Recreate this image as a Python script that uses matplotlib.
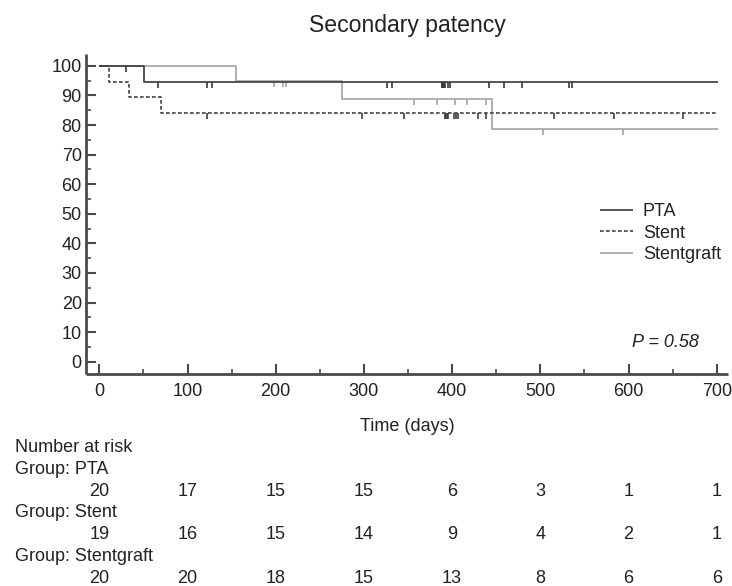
import numpy as np
import matplotlib
matplotlib.use("Agg")
import matplotlib.pyplot as plt
from matplotlib.ticker import MultipleLocator
from matplotlib.transforms import blended_transform_factory

plt.rcParams['font.family'] = ['Liberation Sans', 'DejaVu Sans']

# ---------------- data ----------------
end_time = 702

pta_times = [0, 51]
pta_surv = [100, 94.7]
pta_censor = [30, 67, 122, 128, 326, 332, 388, 389, 390, 391, 392, 395, 398,
              442, 459, 479, 533, 536]

stent_times = [0, 11, 34, 70]
stent_surv = [100, 94.7, 89.5, 84.2]
stent_censor = [122, 298, 345, 392, 393, 394, 395, 402, 404, 407, 429, 438,
                516, 584, 662]

sg_times = [0, 155, 275, 445]
sg_surv = [100, 95.0, 88.9, 78.8]
sg_censor = [198, 208, 212, 357, 383, 403, 417, 438, 503, 594]

group_names = ["PTA", "Stent", "Stentgraft"]
risk_times = [0, 100, 200, 300, 400, 500, 600, 700]
pta_risk = [20, 17, 15, 15, 6, 3, 1, 1]
stent_risk = [19, 16, 15, 14, 9, 4, 2, 1]
sg_risk = [20, 20, 18, 15, 13, 8, 6, 6]

title = "Secondary patency"
xlabel = "Time (days)"
p_text = "P = 0.58"

# ---------------- figure ----------------
W, H = 732, 586
fig = plt.figure(figsize=(W / 100, H / 100), dpi=100)
ax_l, ax_r, ax_t, ax_b = 86, 728, 54, 374.3
ax = fig.add_axes([ax_l / W, 1 - ax_b / H, (ax_r - ax_l) / W, (ax_b - ax_t) / H])

dark = "#3a3a3a"
mid = "#404040"
light = "#a3a3a3"
txt = "#222222"
spine_c = "#4a4a4a"
fs = 13

groups = [
    (pta_times, pta_surv, pta_censor, dark, "-", group_names[0]),
    (stent_times, stent_surv, stent_censor, mid, (0, (2.2, 1.4)), group_names[1]),
    (sg_times, sg_surv, sg_censor, light, "-", group_names[2]),
]

# draw gray first so dark lines on top where they overlap
order = [2, 1, 0]
handles = {}
for i in order:
    t, s, c, col, ls, name = groups[i]
    tt = np.append(t, end_time)
    ss = np.append(s, s[-1])
    ln, = ax.step(tt, ss, where="post", color=col, lw=1.2, linestyle=ls, label=name,
                  solid_capstyle="butt", zorder=3 if i != 2 else 2)
    handles[i] = ln
    cs = np.array(s)[np.searchsorted(t, c, side="right") - 1]
    ax.vlines(c, cs - 2.2, cs, color=col, lw=1.2, zorder=3 if i != 2 else 2)

ax.set_xlim(-15.1, 712.8)
ax.set_ylim(-4.26, 104)
ax.xaxis.set_major_locator(MultipleLocator(100))
ax.xaxis.set_minor_locator(MultipleLocator(50))
ax.yaxis.set_major_locator(MultipleLocator(10))
ax.yaxis.set_minor_locator(MultipleLocator(5))

for side in ["top", "right"]:
    ax.spines[side].set_visible(False)
for side in ["left", "bottom"]:
    ax.spines[side].set_linewidth(2.0)
    ax.spines[side].set_color(spine_c)
    ax.spines[side].set_capstyle("butt")

ax.tick_params(axis="both", which="major", direction="in", length=7.2, width=1.5,
               color=spine_c, labelsize=fs, labelcolor=txt)
ax.tick_params(axis="both", which="minor", direction="in", length=3.8, width=1.2,
               color=spine_c)
ax.tick_params(axis="y", which="major", pad=3)
ax.tick_params(axis="x", which="major", pad=6)

ax.set_title(title, fontsize=16.6, color=txt, pad=16)
ax.set_xlabel(xlabel, fontsize=fs, color=txt, va="baseline")
ax.xaxis.set_label_coords(0.5, (ax_b - 431) / (ax_b - ax_t))

ax.text(680, 5.1, p_text, fontsize=fs, style="italic", color=txt,
        ha="right", va="baseline")

leg = ax.legend([handles[0], handles[1], handles[2]], group_names,
                loc="upper left", bbox_to_anchor=(600 / W, 1 - 203 / H),
                bbox_transform=fig.transFigure, frameon=False, fontsize=fs,
                handlelength=1.83, handletextpad=0.55, labelspacing=0.25,
                borderpad=0, borderaxespad=0)
for t in leg.get_texts():
    t.set_color(txt)

# ---------------- number at risk table ----------------
tr = blended_transform_factory(ax.transData, fig.transFigure)
base0 = 451.7
step = 21.93
fig.text(15 / W, 1 - base0 / H, "Number at risk", fontsize=fs, color=txt,
         ha="left", va="baseline")
for gi, (name, risk) in enumerate(zip(group_names, [pta_risk, stent_risk, sg_risk])):
    yg = base0 + step * (1 + 2 * gi)
    fig.text(15 / W, 1 - yg / H, "Group: " + name, fontsize=fs, color=txt,
             ha="left", va="baseline")
    yn = yg + step
    for rt, n in zip(risk_times, risk):
        ax.text(rt, 1 - yn / H, str(n), transform=tr, fontsize=fs, color=txt,
                ha="center", va="baseline", clip_on=False)

fig.savefig("out.png", dpi=100)
